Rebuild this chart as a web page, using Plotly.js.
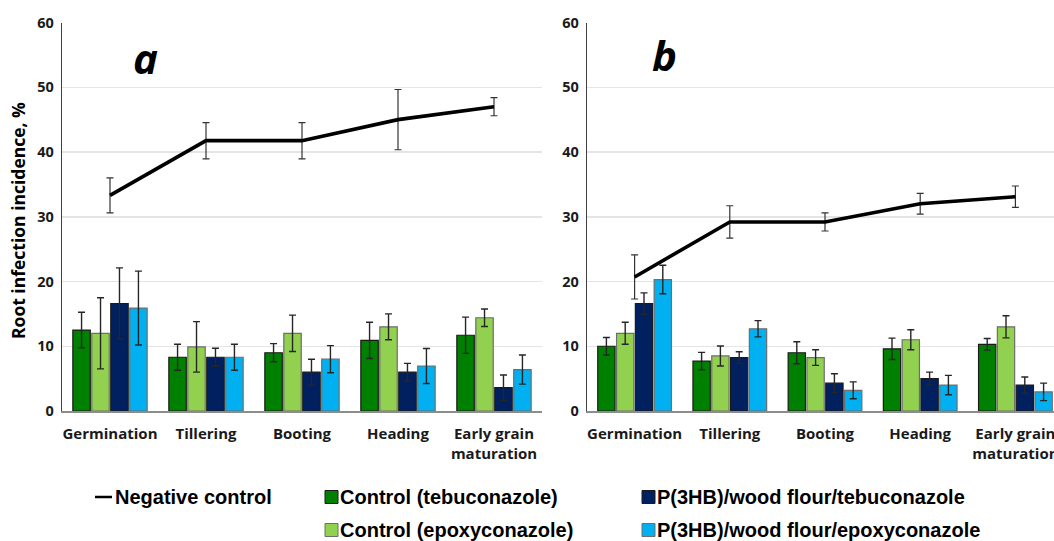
<!DOCTYPE html>
<html><head><meta charset="utf-8">
<script src="https://cdn.plot.ly/plotly-3.0.1.min.js"></script>
<style>html,body{margin:0;padding:0;overflow:hidden;background:#fff;width:1054px;height:541px}#chart{width:1080px;height:541px}</style>
</head><body><div id="chart"></div>
<script>
// ---- data ----
const stages = ['Germination', 'Tillering', 'Booting', 'Heading', 'Early grain<br>maturation'];
const seriesNames = ['Negative control', 'Control (tebuconazole)', 'Control (epoxyconazole)',
  'P(3HB)/wood flour/tebuconazole', 'P(3HB)/wood flour/epoxyconazole'];
const panelLabels = ['a', 'b'];
const yTitle = 'Root infection incidence, %';

// Panel a
const a_negControl = [33.3, 41.75, 41.75, 45.0, 47.0];
const a_negControlErr = [2.7, 2.8, 2.8, 4.65, 1.4];
const a_ctrlTeb = [12.5, 8.3, 9.0, 10.9, 11.7];
const a_ctrlTebErr = [2.75, 2.0, 1.4, 2.8, 2.8];
const a_ctrlEpo = [12.0, 9.9, 12.0, 13.0, 14.4];
const a_ctrlEpoErr = [5.5, 3.9, 2.8, 2.0, 1.35];
const a_phbTeb = [16.6, 8.3, 6.0, 6.0, 3.6];
const a_phbTebErr = [5.5, 1.4, 2.0, 1.35, 1.95];
const a_phbEpo = [15.9, 8.3, 8.0, 6.95, 6.4];
const a_phbEpoErr = [5.7, 2.0, 2.1, 2.7, 2.25];

// Panel b
const b_negControl = [20.7, 29.2, 29.2, 32.0, 33.1];
const b_negControlErr = [3.4, 2.5, 1.4, 1.6, 1.65];
const b_ctrlTeb = [10.0, 7.7, 9.0, 9.6, 10.3];
const b_ctrlTebErr = [1.35, 1.35, 1.7, 1.65, 0.9];
const b_ctrlEpo = [12.0, 8.5, 8.25, 11.0, 13.0];
const b_ctrlEpoErr = [1.7, 1.55, 1.2, 1.55, 1.7];
const b_phbTeb = [16.6, 8.25, 4.3, 5.0, 4.0];
const b_phbTebErr = [1.65, 0.9, 1.45, 1.0, 1.25];
const b_phbEpo = [20.3, 12.7, 3.2, 4.0, 2.95];
const b_phbEpoErr = [2.2, 1.25, 1.3, 1.5, 1.35];

// ---- style ----
const W = 1080, H = 541;
const px = v => v / W, py = v => 1 - v / H;
const FONT = 'Open Sans, Liberation Sans, sans-serif';
const LEGFONT = 'Liberation Sans, Arial, sans-serif';
const colors = ['#000000', '#008000', '#92D050', '#002060', '#00B0F0'];
const borders = ['#000000', '#1a1a1a', '#6e6e6e', '#1a1a1a', '#6e6e6e'];

function bar(vals, errs, idx, xa, ya) {
  return {
    type: 'bar', x: stages, y: vals, name: seriesNames[idx], xaxis: xa, yaxis: ya,
    marker: {color: colors[idx], line: {color: borders[idx], width: 1.2}},
    error_y: {type: 'data', array: errs, visible: true, color: '#262626', thickness: 1.4, width: 3.5},
    showlegend: false, hoverinfo: 'y'
  };
}
function line(vals, errs, xa, ya) {
  return {
    type: 'scatter', mode: 'lines', x: stages, y: vals, name: seriesNames[0], xaxis: xa, yaxis: ya,
    line: {color: '#000', width: 3.6},
    error_y: {type: 'data', array: errs, visible: true, color: '#333', thickness: 1.2, width: 3.5},
    showlegend: false, hoverinfo: 'y'
  };
}

const traces = [
  bar(a_ctrlTeb, a_ctrlTebErr, 1, 'x', 'y'),
  bar(a_ctrlEpo, a_ctrlEpoErr, 2, 'x', 'y'),
  bar(a_phbTeb, a_phbTebErr, 3, 'x', 'y'),
  bar(a_phbEpo, a_phbEpoErr, 4, 'x', 'y'),
  line(a_negControl, a_negControlErr, 'x', 'y'),
  bar(b_ctrlTeb, b_ctrlTebErr, 1, 'x2', 'y2'),
  bar(b_ctrlEpo, b_ctrlEpoErr, 2, 'x2', 'y2'),
  bar(b_phbTeb, b_phbTebErr, 3, 'x2', 'y2'),
  bar(b_phbEpo, b_phbEpoErr, 4, 'x2', 'y2'),
  line(b_negControl, b_negControlErr, 'x2', 'y2')
];

function xax(dom) {
  return {domain: dom, type: 'category', showline: true, linecolor: '#8c8c8c', linewidth: 2,
    ticks: '', showgrid: false, zeroline: false, fixedrange: true, ticklabelstandoff: 8,
    tickfont: {family: FONT, size: 15, color: '#1a1a1a', weight: 'bold'}, tickangle: 0};
}
function yax(anchor) {
  return {domain: [py(411), py(22.5)], anchor: anchor, range: [0, 60], dtick: 10, showgrid: true,
    gridcolor: '#e4e4e4', gridwidth: 1.5, showline: true, linecolor: '#404040', linewidth: 1.3,
    zeroline: false, ticks: '', fixedrange: true, ticklabelstandoff: 4,
    tickfont: {family: FONT, size: 14.5, color: '#1a1a1a', weight: 'bold'}};
}

const legFont = {family: LEGFONT, size: 20, color: '#000', weight: 'bold'};
const annotations = [
  {xref: 'paper', yref: 'paper', x: px(18), y: py(221), text: yTitle, textangle: -90, showarrow: false,
   font: {family: FONT, size: 17.5, color: '#000', weight: 'bold'}, xanchor: 'center', yanchor: 'middle'},
  {xref: 'paper', yref: 'paper', x: px(145), y: py(57), text: panelLabels[0], showarrow: false,
   font: {family: FONT, size: 42, color: '#000', weight: 'bold', style: 'italic'}, xanchor: 'center', yanchor: 'middle'},
  {xref: 'paper', yref: 'paper', x: px(664), y: py(55), text: panelLabels[1], showarrow: false,
   font: {family: FONT, size: 42, color: '#000', weight: 'bold', style: 'italic'}, xanchor: 'center', yanchor: 'middle'},
  {xref: 'paper', yref: 'paper', x: px(113), y: py(497), text: seriesNames[0], showarrow: false, font: legFont, xanchor: 'left', yanchor: 'middle'},
  {xref: 'paper', yref: 'paper', x: px(338), y: py(497), text: seriesNames[1], showarrow: false, font: legFont, xanchor: 'left', yanchor: 'middle'},
  {xref: 'paper', yref: 'paper', x: px(338), y: py(530), text: seriesNames[2], showarrow: false, font: legFont, xanchor: 'left', yanchor: 'middle'},
  {xref: 'paper', yref: 'paper', x: px(655), y: py(497), text: seriesNames[3], showarrow: false, font: legFont, xanchor: 'left', yanchor: 'middle'},
  {xref: 'paper', yref: 'paper', x: px(655), y: py(530), text: seriesNames[4], showarrow: false, font: legFont, xanchor: 'left', yanchor: 'middle'}
];
function sq(x, y, c, b) {
  return {type: 'rect', xref: 'paper', yref: 'paper', x0: px(x), x1: px(x + 13), y0: py(y + 6.5), y1: py(y - 6.5),
    fillcolor: c, line: {color: b, width: 1}};
}
const shapes = [
  {type: 'line', xref: 'paper', yref: 'paper', x0: px(95), x1: px(112), y0: py(497), y1: py(497), line: {color: '#000', width: 2.5}},
  sq(325, 497, colors[1], borders[1]),
  sq(325, 530, colors[2], borders[2]),
  sq(642, 497, colors[3], borders[3]),
  sq(642, 530, colors[4], borders[4])
];

const layout = {
  width: W, height: H, margin: {l: 0, r: 0, t: 0, b: 0},
  paper_bgcolor: '#fff', plot_bgcolor: '#fff',
  barmode: 'group', bargap: 0.21, bargroupgap: 0.08,
  xaxis: xax([px(62), px(542)]), yaxis: yax('x'),
  xaxis2: Object.assign(xax([px(587), px(1063)]), {anchor: 'y2'}), yaxis2: yax('x2'),
  annotations: annotations, shapes: shapes, showlegend: false
};
layout.xaxis.anchor = 'y';
Plotly.newPlot('chart', traces, layout, {displayModeBar: false, staticPlot: true});
</script>
</body></html>
